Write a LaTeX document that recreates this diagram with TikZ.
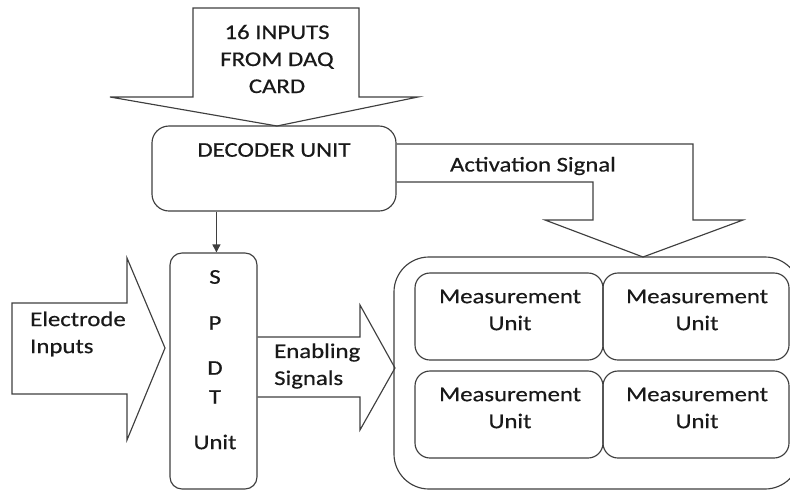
\documentclass[tikz,border=0pt]{standalone}
\usepackage{fontspec}
\setmainfont{Carlito}[FakeStretch=1.18,FakeBold=0.5]
\usetikzlibrary{arrows.meta,calc}

\definecolor{ink}{HTML}{3F3F3F}

\tikzset{
  line/.style={draw=ink, line width=1.15pt, line join=miter},
  box/.style={line, rounded corners=#1, inner sep=0pt},
  box/.default=15pt,
  txt/.style={inner sep=0pt, text=black!90, font=\fontsize{21}{27}\selectfont, align=center},
  ltxt/.style={txt, align=left, anchor=west},
  feed/.style={line, -{Triangle[length=8pt,width=8pt]}}
}

\begin{document}
\begin{tikzpicture}[x=1pt,y=-1pt]
  \useasboundingbox (0,0) rectangle (790,491);

  % decoder and switch blocks
  \node[box=17pt, minimum width=244, minimum height=85] (dec) at (274,168.5) {};
  \node[txt] (dect) at (274,150) {DECODER UNIT};

  \node[box=12pt, minimum width=87, minimum height=236] (spdt) at (213.5,371) {};
  \node[txt] (sS) at (215,277) {S};
  \node[txt] (sP) at (215,323) {P};
  \node[txt] (sD) at (215,368) {D};
  \node[txt] (sT) at (215,397) {T};
  \node[txt] (sU) at (215,442) {Unit};

  % measurement group
  \node[box=35pt, minimum width=406, minimum height=232] (grp) at (597,373) {};
  \node[box, minimum width=188, minimum height=87] (mu1) at (509,316.5) {};
  \node[box, minimum width=186, minimum height=87] (mu2) at (696,316.5) {};
  \node[box, minimum width=188, minimum height=87] (mu3) at (509,414.5) {};
  \node[box, minimum width=186, minimum height=87] (mu4) at (696,414.5) {};
  \node[txt] (mt1) at (510,310) {Measurement\\Unit};
  \node[txt] (mt2) at (697,310) {Measurement\\Unit};
  \node[txt] (mt3) at (510,408) {Measurement\\Unit};
  \node[txt] (mt4) at (697,408) {Measurement\\Unit};

  % block arrow from the DAQ card into the decoder
  \draw[line] (193,8) -- (359,8) -- (359,97) -- (418,97) -- (277,126)
              -- (110,97) -- (193,97) -- cycle;
  \node[txt] (daq) at (277,59) {16 INPUTS\\FROM DAQ\\CARD};

  % electrode inputs into the switch unit
  \draw[line] (12,303) -- (127,303) -- (127,258) -- (165,348)
              -- (127,440) -- (127,394) -- (12,394) -- cycle;
  \node[ltxt] (elec) at (30,334) {Electrode\\Inputs};

  % enabling signals from the switch unit to the measurement group
  \draw[line] (spdt.east |- 0,337) -- (360,337) -- (360,305) -- (395,368)
              -- (360,430) -- (360,397) -- (spdt.east |- 0,397);
  \node[ltxt] (enab) at (274,366) {Enabling\\Signals};

  % bent activation arrow from the decoder down to the measurement group
  \draw[line] (dec.east |- 0,144) -- (693,144) -- (693,220) -- (743,220)
              -- (643,257) -- (545,220) -- (593,220) -- (593,182)
              -- (dec.east |- 0,182);
  \node[txt] (act) at (533,166) {Activation Signal};

  % decoder drives the switch unit
  \draw[feed] (dec.south west) ++(65,0) coordinate (d1) -- (d1 |- spdt.north);
\end{tikzpicture}
\end{document}
